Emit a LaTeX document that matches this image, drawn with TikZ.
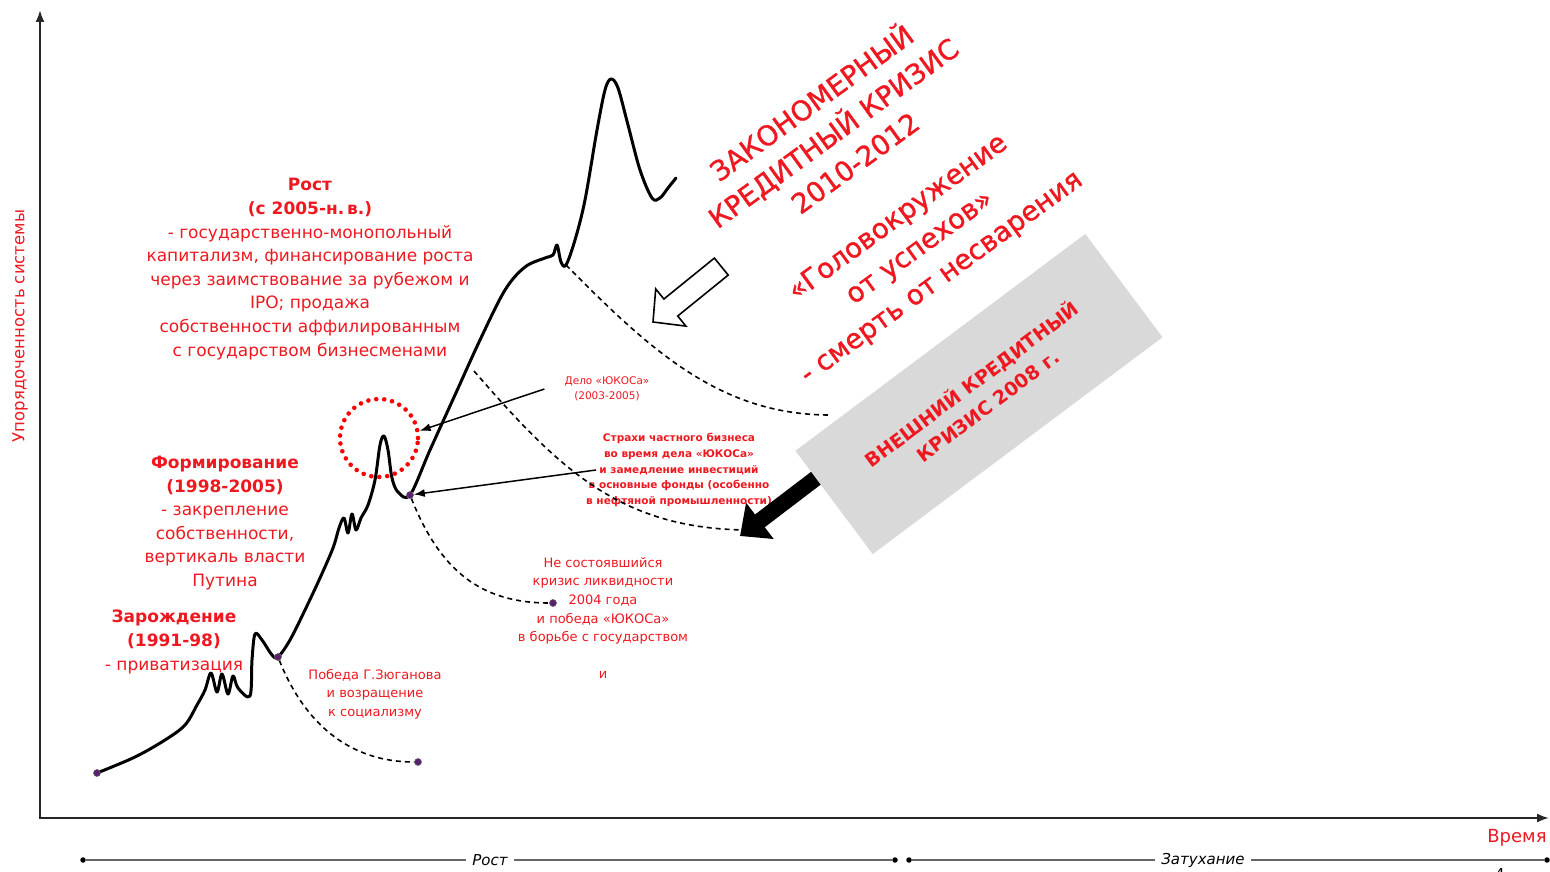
\documentclass[tikz,border=0pt]{standalone}
\usepackage{fontspec}
\setmainfont{DejaVu Sans}
\usetikzlibrary{arrows.meta}
\definecolor{txtred}{RGB}{238,24,32}
\definecolor{dotvio}{RGB}{88,32,110}

\begin{document}
\begin{tikzpicture}[x=1pt, y=-1pt,
    lbl/.style = {text=txtred, align=center, inner sep=0pt},
    heading/.style = {lbl, font=\fontsize{17}{23.6}\selectfont},
    note/.style = {lbl, font=\fontsize{13}{18.6}\selectfont},
    tiny/.style = {lbl, font=\fontsize{10.5}{15.4}\selectfont},
    slogan/.style = {lbl, font=\fontsize{27.5}{37}\selectfont\addfontfeatures{FakeBold=1.2}, rotate=36},
    phase/.style = {font=\itshape\fontsize{15}{18}\selectfont, fill=white, inner xsep=6pt},
    pnt/.style = {circle, fill=dotvio, draw=black!60, line width=0.6pt, inner sep=0pt, minimum size=7pt},
    tick/.style = {circle, fill=black, inner sep=0pt, minimum size=5.5pt},
    curve/.style = {line width=3pt, line join=round, line cap=round},
    dashline/.style = {line width=1.6pt, dash pattern=on 5pt off 4pt},
    pointer/.style = {line width=1.5pt, -{Latex[length=11pt,width=8pt]}},
    axis/.style = {line width=2pt, black!85},
    tline/.style = {line width=2.8pt, gray!80!black}
  ]
  \useasboundingbox (0,0) rectangle (1550,872);

  % axes
  \coordinate (O) at (40,818);
  \coordinate (ytop) at (40,10);
  \coordinate (xend) at (1549,818);
  \draw[axis, {Latex[length=12pt,width=9pt]}-{Latex[length=12pt,width=9pt]}] (ytop) -- (O) -- (xend);
  \node[lbl, rotate=90, font=\fontsize{16.5}{20}\selectfont] (ylab) at (20,326) {Упорядоченность системы};
  \node[lbl, font=\fontsize{18}{20}\selectfont] (time) at (1517,838) {Время};

  % time line below
  \node[tick] (t1) at (83,860) {};
  \node[tick] (t2) at (895,860) {};
  \node[tick] (t3) at (909,860) {};
  \node[tick] (t4) at (1547,860) {};
  \node[phase] (grow) at (490,860) {Рост};
  \node[phase] (fade) at (1203,860) {Затухание};
  \draw[tline] (t1) -- (grow) -- (t2)
               (t3) -- (fade) -- (t4);
  \node[font=\fontsize{15}{18}\selectfont] (pg) at (1500,874) {4};

  % stage labels
  \node[heading] (rost) at (310,269) {\textbf{Рост}\\\textbf{(с 2005-н.\,в.)}\\- государственно-монопольный\\капитализм, финансирование роста\\через заимствование за рубежом и\\IPO; продажа\\собственности аффилированным\\с государством бизнесменами};
  \node[heading] (form) at (225,523) {\textbf{Формирование}\\\textbf{(1998-2005)}\\- закрепление\\собственности,\\вертикаль власти\\Путина};
  \node[heading] (birth) at (174,642) {\textbf{Зарождение}\\\textbf{(1991-98)}\\- приватизация};
  \node[note] (zug) at (375,694) {Победа Г.Зюганова\\и возращение\\к социализму};
  \node[note] (liq) at (603,601) {Не состоявшийся\\кризис ликвидности\\2004 года\\и победа «ЮКОСа»\\в борьбе с государством};
  \node[note] (and) at (603,675) {и};
  \node[tiny] (delo) at (607,389) {Дело «ЮКОСа»\\(2003-2005)};
  \node[tiny, font=\bfseries\fontsize{10.5}{15.7}\selectfont] (fear) at (679,470) {Страхи частного бизнеса\\во время дела «ЮКОСа»\\и замедление инвестиций\\в основные фонды (особенно\\в нефтяной промышленности)};

  % main curve
  \draw[curve] plot[smooth, tension=0.55] coordinates {
    (97,773) (135,757) (165,740) (185,725) (197,705) (205,690) (211,673)
    (217,692) (222,674) (228,694) (233,676) (238,688) (250,696) (252,660)
    (255,634) (262,640) (272,655) (278,657) (290,640) (305,610) (320,578)
    (333,548) (339,528) (344,518) (348,533) (352,514) (356,530) (361,518)
    (368,505) (375,480) (380,445) (384,436) (388,450) (392,478) (398,492)
    (410,495) (430,450) (455,395) (480,340) (505,290) (525,267) (545,258)
    (553,255) (557,245) (561,262) (566,265) (575,240) (585,200) (597,130)
    (605,90) (611,79) (618,88) (628,125) (640,170) (652,198) (660,198)
    (668,188) (676,178)};

  \node[pnt] (s0) at (97,773) {};
  \node[pnt] (z0) at (278,657) {};
  \node[pnt] (z1) at (418,762) {};
  \node[pnt] (f0) at (410,495) {};
  \node[pnt] (f1) at (553,603) {};
  \coordinate (y0) at (474,371);
  \coordinate (y1) at (745,530);
  \coordinate (r0) at (566,265);
  \coordinate (r1) at (830,415);

  \draw[dashline] (z0) .. controls (300,712) and (340,762) .. (z1)
                  (f0) .. controls (440,570) and (480,603) .. (f1)
                  (y0) .. controls (560,470) and (620,528) .. (y1)
                  (r0) .. controls (650,350) and (720,415) .. (r1);

  % ring and pointers
  \node[circle, draw=red, line width=4.6pt, dash pattern=on 0pt off 8pt, line cap=round, minimum size=78pt, inner sep=0pt] (ring) at (379,438) {};
  \draw[pointer] ([xshift=-20pt]delo.west) -- (ring.10);
  \draw[pointer] ([xshift=10pt]fear.west) -- (f0);

  % hollow arrow
  \draw[line width=1.6pt, fill=white] (653,322) -- (685.9,326.1) -- (677.7,316.0) -- (728.2,275.1)
    -- (714.4,258.1) -- (663.9,299.0) -- (655.7,288.9) -- cycle;

  % black arrow and grey box
  \coordinate (bin) at (828,469);
  \coordinate (btip) at (740,536);
  \draw[line width=16pt, -{Triangle[length=25pt,width=44pt]}] (bin) -- (btip);
  \node[fill=gray!30, minimum width=362pt, minimum height=129pt, rotate=36.8, text=txtred, align=center,
        font=\bfseries\fontsize{19}{27}\selectfont] (box) at (979,394) {ВНЕШНИЙ КРЕДИТНЫЙ\\КРИЗИС 2008 г.};

  % slogans
  \node[slogan] (law) at (832,131) {ЗАКОНОМЕРНЫЙ\\КРЕДИТНЫЙ КРИЗИС\\2010-2012};
  \node[slogan] (dizzy) at (920,248) {«Головокружение\\от успехов»\\- смерть от несварения};
\end{tikzpicture}
\end{document}
